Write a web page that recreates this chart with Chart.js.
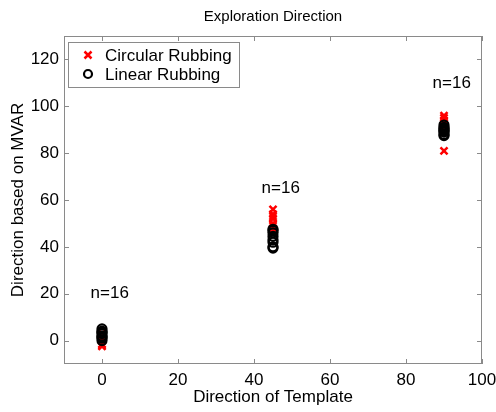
<!DOCTYPE html>
<html>
<head>
<meta charset="utf-8">
<script src="https://cdn.jsdelivr.net/npm/chart.js@4"></script>
<style>
  html, body { margin: 0; padding: 0; background: #fff; }
  #wrap { width: 496px; height: 412px; }
</style>
</head>
<body>
<div id="wrap"><canvas id="myChart" width="496" height="412"></canvas></div>
<script>
// データ
const templateDirs = [0, 45, 90];
const circularRubbing = [
    [-2.5, -2, -1.5, 0, 1, 1.5, 2, 3],
    [56, 54, 53, 52, 50, 49, 48, 47],
    [96, 95, 94, 93, 92, 90, 89, 81],
];
const linearRubbing = [
    [0, 1, 1.5, 2, 3, 3.5, 4, 5],
    [39.5, 40, 42, 43, 44.5, 46, 47, 47.5],
    [87.5, 88, 89, 89.5, 90, 90.5, 91, 92],
];
const xTicks = [0, 20, 40, 60, 80, 100];
const yTicks = [0, 20, 40, 60, 80, 100, 120];
const noteX = [-3, 42, 87];
const noteY = [20, 65, 110];
const noteText = ["n=16", "n=16", "n=16"];

const FONT = "'Liberation Sans', Arial, sans-serif";
const frameColor = "#8a8a8a";

const toPoints = (groups) => {
    const pts = [];
    groups.forEach((g, i) => g.forEach(v => pts.push({ x: templateDirs[i], y: v })));
    return pts;
};

// 枠・目盛り・凡例・注記を描くプラグイン
const matlabLook = {
    id: "matlabLook",
    afterDatasetsDraw(chart) {
        const c = chart.ctx;
        const a = chart.chartArea;
        const xs = chart.scales.x;
        const ys = chart.scales.y;

        // 注記 n=16
        c.save();
        c.fillStyle = "#000";
        c.font = "17px " + FONT;
        c.textAlign = "left";
        c.textBaseline = "middle";
        noteText.forEach((t, i) => {
            c.fillText(t, xs.getPixelForValue(noteX[i]), ys.getPixelForValue(noteY[i]));
        });
        c.restore();

        // 枠と内向きの目盛り
        c.save();
        c.strokeStyle = frameColor;
        c.lineWidth = 1;
        c.strokeRect(a.left + 0.5, a.top + 0.5, a.right - a.left - 1, a.bottom - a.top - 1);
        c.beginPath();
        const tl = 5;
        xTicks.forEach(v => {
            const px = Math.round(xs.getPixelForValue(v)) + 0.5;
            c.moveTo(px, a.bottom); c.lineTo(px, a.bottom - tl);
            c.moveTo(px, a.top); c.lineTo(px, a.top + tl);
        });
        yTicks.forEach(v => {
            const py = Math.round(ys.getPixelForValue(v)) + 0.5;
            c.moveTo(a.left, py); c.lineTo(a.left + tl, py);
            c.moveTo(a.right, py); c.lineTo(a.right - tl, py);
        });
        c.stroke();
        c.restore();

        // タイトル
        c.save();
        c.fillStyle = "#000";
        c.font = "15px " + FONT;
        c.textAlign = "center";
        c.textBaseline = "middle";
        c.fillText("Exploration Direction", (a.left + a.right) / 2, 17);
        c.restore();

        // 凡例
        const bx = a.left + 4, by = a.top + 6, bw = 171, bh = 45;
        c.save();
        c.fillStyle = "#fff";
        c.fillRect(bx, by, bw, bh);
        c.strokeStyle = frameColor;
        c.strokeRect(bx + 0.5, by + 0.5, bw, bh);
        c.font = "17px " + FONT;
        c.fillStyle = "#000";
        c.textBaseline = "middle";
        c.textAlign = "left";
        chart.data.datasets.forEach((ds, i) => {
            const cy = by + 13 + i * 19;
            const cx = bx + 20;
            c.save();
            c.strokeStyle = ds.borderColor;
            c.lineWidth = ds.borderWidth;
            c.beginPath();
            if (ds.pointStyle === "crossRot") {
                const r = 3.5;
                c.moveTo(cx - r, cy - r); c.lineTo(cx + r, cy + r);
                c.moveTo(cx - r, cy + r); c.lineTo(cx + r, cy - r);
            } else {
                c.arc(cx, cy, 4, 0, Math.PI * 2);
            }
            c.stroke();
            c.restore();
            c.fillText(ds.label, bx + 37, cy + 1);
        });
        c.restore();
    },
};

const ctx = document.getElementById("myChart");
new Chart(ctx, {
    type: "scatter",
    data: {
        datasets: [
            {
                label: "Circular Rubbing",
                data: toPoints(circularRubbing),
                pointStyle: "crossRot",
                radius: 5,
                borderColor: "#ff0000",
                backgroundColor: "#ff0000",
                borderWidth: 2.5,
                order: 2,
            },
            {
                label: "Linear Rubbing",
                data: toPoints(linearRubbing),
                pointStyle: "circle",
                radius: 4.5,
                borderColor: "#000000",
                backgroundColor: "rgba(0,0,0,0)",
                borderWidth: 2.2,
                order: 1,
            },
        ],
    },
    options: {
        responsive: false,
        animation: false,
        layout: { padding: { top: 36, right: 14, left: 0, bottom: 0 } },
        plugins: {
            legend: { display: false },
            title: { display: false },
            tooltip: { enabled: false },
        },
        elements: { point: { hoverRadius: 5 } },
        scales: {
            x: {
                type: "linear",
                min: -10,
                max: 100,
                afterBuildTicks: (s) => { s.ticks = xTicks.map(v => ({ value: v })); },
                afterFit: (s) => { s.height = 48; s.paddingLeft = 0; s.paddingRight = 0; },
                ticks: { color: "#000", font: { family: FONT, size: 17 }, padding: 6, maxRotation: 0 },
                grid: { display: false, drawTicks: false },
                border: { display: false },
                title: {
                    display: true,
                    text: "Direction of Template",
                    color: "#000",
                    font: { family: FONT, size: 17 },
                    padding: { top: 0, bottom: 4 },
                },
            },
            y: {
                type: "linear",
                min: -10,
                max: 130,
                afterBuildTicks: (s) => { s.ticks = yTicks.map(v => ({ value: v })); },
                afterFit: (s) => { s.width = 64; s.paddingTop = 0; s.paddingBottom = 0; },
                ticks: { color: "#000", font: { family: FONT, size: 17 }, padding: 5 },
                grid: { display: false, drawTicks: false },
                border: { display: false },
                title: {
                    display: true,
                    text: "Direction based on MVAR",
                    color: "#000",
                    font: { family: FONT, size: 17 },
                    padding: { top: 8, bottom: 0 },
                },
            },
        },
    },
    plugins: [matlabLook],
});
</script>
</body>
</html>
